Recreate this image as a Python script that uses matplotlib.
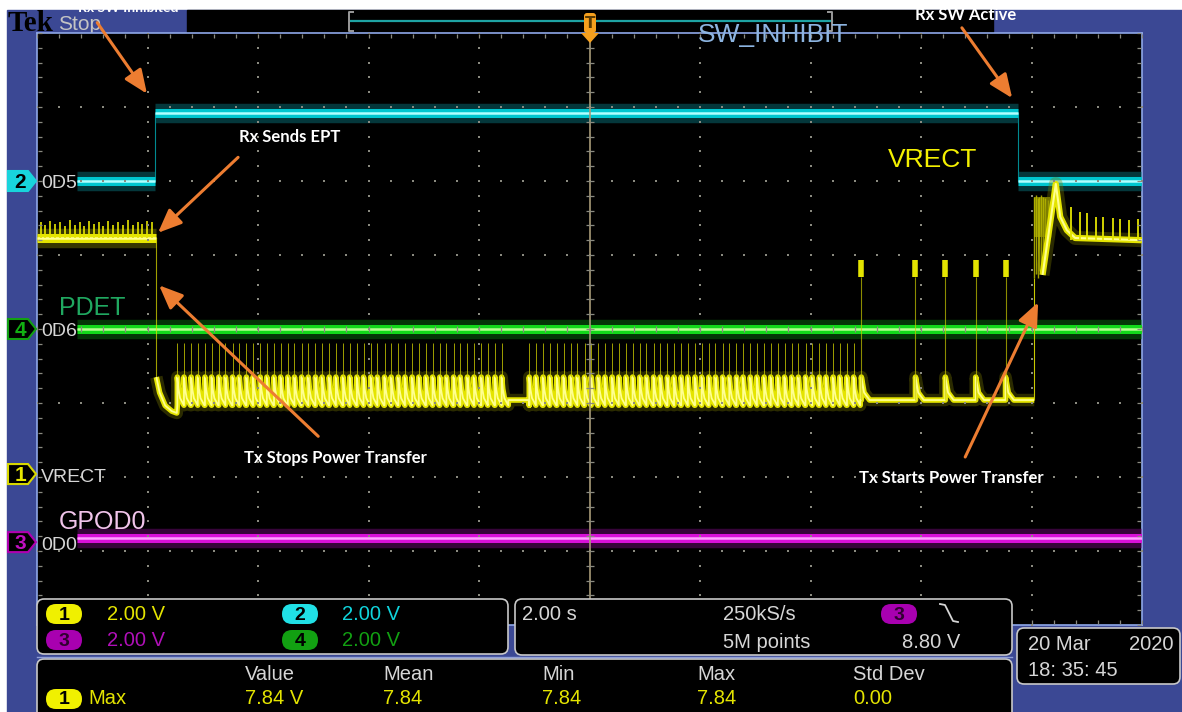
import numpy as np
import matplotlib
matplotlib.use('Agg')
import matplotlib.pyplot as plt
from matplotlib.patches import Rectangle, FancyBboxPatch, Polygon

W, H = 1182, 712

# scope settings
volts_div = 2.0
pos_ch1, pos_ch2, pos_ch3, pos_ch4 = -1.96, 2.0, -2.88, 0.0   # divisions

# CH2 - SW_INHIBIT (V vs s)
sw_t = [-9.27, -7.87, -7.87, 7.75, 7.75, 10.0]
sw_v = [0.0, 0.0, 1.84, 1.84, 0.0, 0.0]
# CH4 - PDET
pdet_t = [-9.27, 10.0]
pdet_v = [0.0, 0.0]
# CH3 - GPOD0
gpod_t = [-9.27, 10.0]
gpod_v = [0.11, 0.11]

# CH1 - VRECT
vr_on_t = [-10.0, -7.84]
vr_on_v = [6.38, 6.38]
vr_on_spike_t = [-9.93, -9.85, -9.76, -9.67, -9.58, -9.50, -9.41, -9.32, -9.23, -9.15, -9.06, -8.97,
                 -8.88, -8.80, -8.71, -8.62, -8.53, -8.45, -8.36, -8.27, -8.18, -8.10, -8.01, -7.92]
vr_on_spike_v = [6.80, 6.72, 6.85, 6.75, 6.82, 6.70, 6.86, 6.74, 6.80, 6.71, 6.84, 6.76,
                 6.82, 6.70, 6.85, 6.73, 6.80, 6.74, 6.86, 6.72, 6.82, 6.75, 6.84, 6.80]
vr_drop_t = [-7.84, -7.84, -7.78, -7.68, -7.56, -7.47]
vr_drop_v = [6.38, 2.62, 2.20, 1.85, 1.70, 1.65]
# analog ping times of the Tx while power transfer is stopped
ping_t = [-7.46, -7.34, -7.21, -7.09, -6.96, -6.84, -6.71, -6.59, -6.46, -6.34, -6.21, -6.09,
          -5.96, -5.84, -5.71, -5.59, -5.46, -5.34, -5.21, -5.09, -4.96, -4.84, -4.71, -4.59,
          -4.46, -4.34, -4.21, -4.09, -3.96, -3.84, -3.71, -3.59, -3.46, -3.34, -3.21, -3.09,
          -2.96, -2.84, -2.71, -2.59, -2.46, -2.34, -2.21, -2.09, -1.96, -1.84, -1.71, -1.59,
          -1.09, -0.97, -0.84, -0.72, -0.59, -0.47, -0.34, -0.22, -0.09, 0.03, 0.16, 0.28,
          0.41, 0.53, 0.66, 0.78, 0.91, 1.03, 1.16, 1.28, 1.41, 1.53, 1.66, 1.78,
          1.91, 2.03, 2.16, 2.28, 2.41, 2.53, 2.66, 2.78, 2.91, 3.03, 3.16, 3.28,
          3.41, 3.53, 3.66, 3.78, 3.91, 4.03, 4.16, 4.28, 4.41, 4.53, 4.66, 4.78]
ping_dt = [0.0, 0.0, 0.02, 0.05, 0.12]
ping_dv = [1.86, 2.62, 2.30, 2.05, 1.86]
ping_top = 3.54
vr_idle = 2.0
retry_t = [4.92, 5.90, 6.44, 6.99, 7.53]
retry_lo, retry_hi = 5.32, 5.78
retry_dt = [0.0, 0.0, 0.05, 0.15]
retry_dv = [2.0, 2.62, 2.20, 2.0]
burst_t = [8.05, 8.08, 8.11, 8.14, 8.17, 8.21, 8.25, 8.29, 8.33]
burst_lo = [5.30, 5.40, 5.30, 5.50, 5.60, 5.90, 6.30, 6.40, 6.40]
burst_hi = [7.50, 7.55, 7.45, 7.50, 7.55, 7.50, 7.45, 7.40, 7.20]
restart_t = [8.20, 8.39, 8.44, 8.52, 8.64, 8.79, 10.0]
restart_v = [5.38, 7.32, 7.84, 6.95, 6.59, 6.38, 6.32]
run_spike_t = [8.72, 8.87, 9.01, 9.16, 9.30, 9.47, 9.61, 9.77, 9.92]
run_spike_v = [7.21, 7.07, 7.05, 6.94, 6.94, 6.91, 6.88, 6.86, 6.88]

BLUE = '#3b4894'
EDGE = '#8ea8e8'
UIW = '#d6d6d6'
UI = ['Liberation Sans Narrow', 'DejaVu Sans Condensed', 'Liberation Sans']
ANN = ['Lato', 'Open Sans', 'DejaVu Sans']
SANS = ['Liberation Sans', 'DejaVu Sans']
YEL = ('#7c7c00', '#e4e400', '#ffff90')
CYA = ('#0b7c84', '#00c6cf', '#b0ffff')
GRN = ('#0a7a10', '#12d81a', '#b4ff90')
MAG = ('#7a0a80', '#d810d8', '#ffa0ff')


def div(v, pos):
    return np.asarray(v, dtype=float) / volts_div + pos


def flat_trace(ax, t, v, pos, cols):
    t = np.asarray(t, dtype=float)
    d = div(v, pos)
    ax.plot(t, d, color=cols[1], lw=0.8, alpha=0.7, zorder=3)
    for i in range(len(t) - 1):
        if d[i] == d[i + 1]:
            for c, w, a in zip(cols, (14, 6.5, 1.8), (0.45, 1, 1)):
                ax.plot(t[i:i + 2], d[i:i + 2], color=c, lw=w, alpha=a,
                        solid_capstyle='butt', zorder=3)


def glow_line(ax, t, v, pos, cols, widths=(9, 4, 1.3)):
    d = div(v, pos)
    for c, w, a in zip(cols, widths, (0.35, 1, 1)):
        ax.plot(t, d, color=c, lw=w, alpha=a, solid_joinstyle='round',
                solid_capstyle='butt', zorder=3)


fig = plt.figure(figsize=(W / 100, H / 100), dpi=100, facecolor='white')
bg = fig.add_axes([0, 0, 1, 1])
bg.set_xlim(0, W)
bg.set_ylim(H, 0)
bg.axis('off')
sc = fig.add_axes([37 / W, 1 - 625 / H, 1105 / W, 592 / H], zorder=2, facecolor='black')
fg = fig.add_axes([0, 0, 1, 1], zorder=4)
fg.set_xlim(0, W)
fg.set_ylim(H, 0)
fg.axis('off')

# ---- frame ----
bg.add_patch(Rectangle((7, 10), W - 7, H - 10, color=BLUE, zorder=0))
bg.add_patch(Rectangle((187, 10), 806, 23, color='black', zorder=1))
bg.plot([350, 832], [21, 21], color='#1ea3a3', lw=1.6, zorder=2)
for bx, s in ((349, 1), (832, -1)):
    bg.plot([bx + 4 * s, bx, bx, bx + 4 * s], [12, 12, 31, 31], color='#9a9a9a', lw=1.4, zorder=2)
bg.text(8, 31, 'Tek', fontsize=21, fontweight='bold', family=['Liberation Serif', 'DejaVu Serif'],
        color='black', va='baseline', zorder=2)
bg.text(58, 24, 'Stop', fontsize=15, family=UI, color='#c4c4c4', va='center', zorder=2)

# ---- graticule ----
sc.set_xlim(-10, 10)
sc.set_ylim(-4, 4)
sc.set_xticks([])
sc.set_yticks([])
for s in sc.spines.values():
    s.set_color(EDGE)
    s.set_linewidth(1.2)
minor_x = np.arange(-10, 10.01, 0.4)
minor_y = np.arange(-4, 4.01, 0.2)
gcol = '#8a8a80'
for gx in (-8, -6, -4, -2, 2, 4, 6, 8):
    sc.scatter(np.full(minor_y.size, gx), minor_y, s=3, c=gcol, marker='s', lw=0, zorder=6)
for gy in (-3, -2, -1, 1, 2, 3):
    sc.scatter(minor_x, np.full(minor_x.size, gy), s=3, c=gcol, marker='s', lw=0, zorder=6)
sc.axvline(0, color='#a89a78', lw=1.2, zorder=6)
sc.scatter(minor_x, np.zeros(minor_x.size), marker='|', s=20, c=gcol, lw=0.9, zorder=6)
sc.scatter(np.zeros(minor_y.size), minor_y, marker='_', s=30, c=gcol, lw=0.9, zorder=6)
sc.scatter(minor_x, np.full(minor_x.size, 3.96), marker='|', s=10, c=gcol, lw=0.9, zorder=6)
sc.scatter(minor_x, np.full(minor_x.size, -3.96), marker='|', s=10, c=gcol, lw=0.9, zorder=6)
sc.scatter(np.full(minor_y.size, -9.95), minor_y, marker='_', s=10, c=gcol, lw=0.9, zorder=6)
sc.scatter(np.full(minor_y.size, 9.95), minor_y, marker='_', s=10, c=gcol, lw=0.9, zorder=6)

# ---- traces ----
flat_trace(sc, gpod_t, gpod_v, pos_ch3, MAG)
flat_trace(sc, pdet_t, pdet_v, pos_ch4, GRN)
flat_trace(sc, sw_t, sw_v, pos_ch2, CYA)

# VRECT while Rx is powered
flat_trace(sc, vr_on_t, vr_on_v, pos_ch1, YEL)
sc.vlines(vr_on_spike_t, div(vr_on_v[0], pos_ch1), div(vr_on_spike_v, pos_ch1),
          color=YEL[1], lw=1.2, zorder=3)
sc.plot(vr_drop_t[:2], div(vr_drop_v[:2], pos_ch1), color=YEL[1], lw=0.8, alpha=0.7, zorder=3)

# VRECT while Tx pings
lp_t = list(vr_drop_t[1:])
lp_v = list(vr_drop_v[1:])
end = ping_t[0]
for p in ping_t:
    if p - end > 0.1:
        lp_t += [end, p]
        lp_v += [vr_idle, vr_idle]
    lp_t += [p + d for d in ping_dt]
    lp_v += ping_dv
    end = p + ping_dt[-1]
for r in retry_t:
    lp_t += [end, r]
    lp_v += [vr_idle, vr_idle]
    lp_t += [r + d for d in retry_dt]
    lp_v += retry_dv
    end = r + retry_dt[-1]
lp_t += [end, burst_t[0]]
lp_v += [vr_idle, vr_idle]
glow_line(sc, lp_t, lp_v, pos_ch1, YEL)
sc.vlines(ping_t, div(ping_dv[1], pos_ch1), div(ping_top, pos_ch1), color='#c8c800', lw=0.7,
          alpha=0.8, zorder=3)
sc.vlines(retry_t, div(vr_idle, pos_ch1), div(retry_lo, pos_ch1), color='#c8c800', lw=0.8,
          alpha=0.7, zorder=3)
sc.vlines(retry_t, div(retry_lo, pos_ch1), div(retry_hi, pos_ch1), color=YEL[1], lw=4, zorder=3)

# VRECT restart
sc.vlines(burst_t[0], div(vr_idle, pos_ch1), div(burst_lo[0], pos_ch1), color='#c8c800', lw=0.8,
          zorder=3)
sc.fill_between([burst_t[0], burst_t[-1]], div(6.4, pos_ch1), div(7.5, pos_ch1), color='#8a8a00',
                alpha=0.85, lw=0, zorder=3)
sc.vlines(burst_t, div(burst_lo, pos_ch1), div(burst_hi, pos_ch1), color='#b4b400', lw=1.0,
          alpha=0.9, zorder=3)
glow_line(sc, restart_t, restart_v, pos_ch1, YEL, widths=(10, 4.5, 1.5))
sc.vlines(run_spike_t, div(restart_v[-1], pos_ch1), div(run_spike_v, pos_ch1), color=YEL[1],
          lw=1.3, zorder=3)

# ---- trace names ----
sc.text(1.96, 3.97, 'SW_INHIBIT', fontsize=19, family=SANS, color='#8cb4e0', va='center',
        zorder=7, clip_on=False)
sc.text(5.40, 2.28, 'VRECT', fontsize=19, family=SANS, color='#f4f000', va='center', zorder=7)
sc.text(-9.60, 0.28, 'PDET', fontsize=18, family=SANS, color='#20a860', va='center', zorder=7)
sc.text(-9.60, -2.61, 'GPOD0', fontsize=18, family=SANS, color='#f0c4ea', va='center', zorder=7)

# ---- callouts ----
arrow = dict(arrowstyle='-|>,head_length=0.9,head_width=0.38', color='#ed7d31', lw=2.2,
             mutation_scale=16, shrinkA=0, shrinkB=0)
for tip, tail in (((-8.01, 3.18), (-8.91, 4.14)),
                  ((-7.81, 1.30), (-6.36, 2.32)),
                  ((-7.79, 0.59), (-4.91, -1.45)),
                  ((7.65, 3.12), (6.74, 4.07)),
                  ((8.12, 0.36), (6.80, -1.73))):
    sc.annotate('', xy=tip, xytext=tail, arrowprops=arrow, annotation_clip=False, zorder=8)

for x, y, s, fs in ((128, 7.5, 'Rx SW Inhibited', 10), (290, 137, 'Rx Sends EPT', 12),
                    (335, 458, 'Tx Stops Power Transfer', 12),
                    (951, 478, 'Tx Starts Power Transfer', 12), (966, 15, 'Rx SW Active', 12)):
    fg.text(x, y, s, fontsize=fs, fontweight='bold', family=ANN, color='white',
            ha='center', va='center')

# ---- trigger marker ----
fg.add_patch(FancyBboxPatch((584, 13), 12, 20, boxstyle='round,pad=0,rounding_size=3',
                            fc='#f5a01e', ec='none'))
fg.add_patch(Polygon([(581, 33), (599, 33), (590, 43)], closed=True, fc='#f5a01e', ec='none'))
fg.text(590, 24, 'T', fontsize=11, fontweight='bold', color='#5a3a00', ha='center', va='center')

# ---- channel position markers ----
for pos, num, name, fill, edge, txt in ((pos_ch2, '2', '0D5', '#18d4dc', '#18d4dc', 'black'),
                                        (pos_ch4, '4', '0D6', 'black', '#12a012', '#12b012'),
                                        (pos_ch1, '1', 'VRECT', 'black', '#d8d800', '#e8e800'),
                                        (pos_ch3, '3', '0D0', 'black', '#b000b0', '#c010c0')):
    yc = 329 - pos * 74
    fg.add_patch(Polygon([(8, yc - 10), (28, yc - 10), (36, yc), (28, yc + 10), (8, yc + 10)],
                         closed=True, fc=fill, ec=edge, lw=1.5))
    fg.text(20, yc + 1, num, fontsize=15, fontweight='bold', family=UI, color=txt,
            ha='center', va='center')
    fg.text(41, yc + 3, name, fontsize=14, family=UI, color=UIW, va='center')


# ---- info panel ----
def box(x0, y0, x1, y1):
    fg.add_patch(FancyBboxPatch((x0, y0), x1 - x0, y1 - y0,
                                boxstyle='round,pad=0,rounding_size=7',
                                fc='black', ec='#c8c8c8', lw=1.2))


def oval(xc, yc, num, fill, txt):
    fg.add_patch(FancyBboxPatch((xc - 18, yc - 10), 36, 20,
                                boxstyle='round,pad=0,rounding_size=10', fc=fill, ec='none'))
    fg.text(xc, yc + 1, num, fontsize=14, fontweight='bold', family=UI, color=txt,
            ha='center', va='center')


def ui(x, y, s, color=UIW, ha='left'):
    fg.text(x, y, s, fontsize=14.5, family=UI, color=color, ha=ha, va='center')


box(37, 599, 508, 654)
box(515, 599, 1012, 655)
box(37, 659, 1012, 724)
box(1017, 628, 1180, 684)
fg.plot([37, 1012], [657, 657], color='#8f9fd8', lw=1)

oval(64, 614, '1', '#f0f000', 'black')
ui(107, 614, '2.00 V', '#e4e400')
oval(64, 640, '3', '#a800b0', '#300030')
ui(107, 640, '2.00 V', '#b010b8')
oval(300, 614, '2', '#20e0e6', 'black')
ui(342, 614, '2.00 V', '#10d4dc')
oval(300, 640, '4', '#12a012', 'black')
ui(342, 640, '2.00 V', '#12a012')

ui(522, 614, '2.00 s')
ui(723, 614, '250kS/s')
ui(723, 642, '5M points')
oval(899, 614, '3', '#a800b0', '#300030')
fg.plot([940, 945, 953, 958], [604, 605, 621, 622], color=UIW, lw=1.3)
ui(902, 642, '8.80 V')

for x, s in ((245, 'Value'), (383, 'Mean'), (542, 'Min'), (697, 'Max'), (853, 'Std Dev')):
    ui(x, 674, s)
oval(64, 699, '1', '#f0f000', 'black')
ui(88, 699, 'Max', '#e4e400')
for x, s in ((245, '7.84 V'), (383, '7.84'), (542, '7.84'), (697, '7.84'), (853, '0.00')):
    ui(x, 699, s, '#e4e400')

ui(1028, 644, '20 Mar')
ui(1173, 644, '2020', ha='right')
ui(1028, 670, '18: 35: 45')

fig.savefig('out.png', dpi=100, facecolor='white')
